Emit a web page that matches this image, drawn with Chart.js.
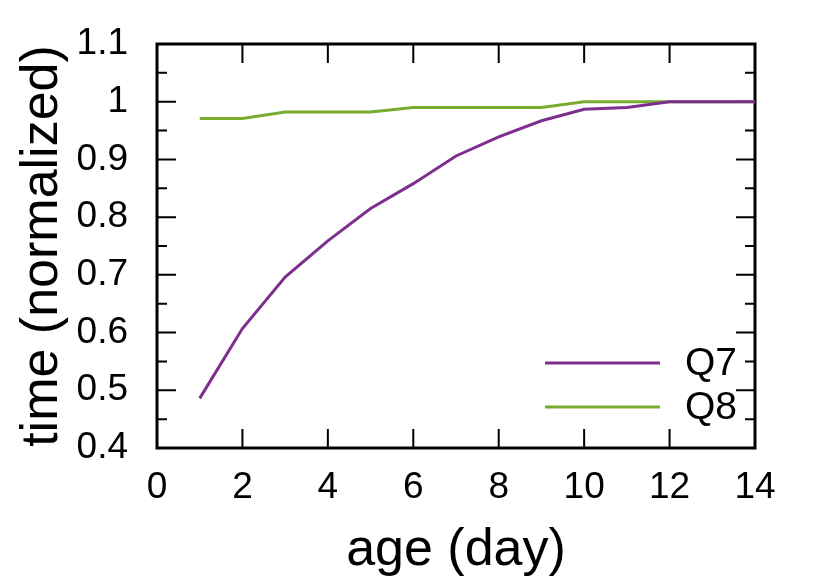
<!DOCTYPE html>
<html>
<head>
<meta charset="utf-8">
<script src="https://cdn.jsdelivr.net/npm/chart.js@4/dist/chart.umd.min.js"></script>
<style>
  html, body { margin: 0; padding: 0; background: #fff; }
  #wrap { width: 830px; height: 577px; }
</style>
</head>
<body>
<div id="wrap"><canvas id="c" width="830" height="577"></canvas></div>
<script>
// --- data ---
const ages = [1, 2, 3, 4, 5, 6, 7, 8, 9, 10, 11, 12, 13, 14];
const q7 = [0.486, 0.607, 0.696, 0.759, 0.815, 0.858, 0.906, 0.939, 0.967, 0.987, 0.990, 1.0, 1.0, 1.0];
const q8 = [0.971, 0.971, 0.982, 0.982, 0.982, 0.990, 0.990, 0.990, 0.990, 1.0, 1.0, 1.0, 1.0, 1.0];
const seriesNames = ['Q7', 'Q8'];
const seriesColors = ['#7e2f8e', '#77ac30'];
const xTicks = [0, 2, 4, 6, 8, 10, 12, 14];
const yTicks = [0.4, 0.5, 0.6, 0.7, 0.8, 0.9, 1.0, 1.1];
const yMinor = [0.45, 0.55, 0.65, 0.75, 0.85, 0.95, 1.05];

const FONT = '"Liberation Sans", Arial, Helvetica, sans-serif';

function toPoints(ys) {
    return ages.map((a, i) => ({ x: a, y: ys[i] }));
}

// frame + inner ticks (gnuplot style, mirrored), drawn under the lines
const framePlugin = {
    id: 'frame',
    beforeDatasetsDraw(chart) {
        const { ctx, chartArea: a, scales } = chart;
        const xs = scales.x, ys = scales.y;
        ctx.save();
        ctx.strokeStyle = '#000';
        ctx.lineWidth = 2;
        ctx.beginPath();
        xTicks.forEach(v => {
            if (v === xTicks[0] || v === xTicks[xTicks.length - 1]) return;
            const px = xs.getPixelForValue(v);
            ctx.moveTo(px, a.bottom); ctx.lineTo(px, a.bottom - 19);
            ctx.moveTo(px, a.top); ctx.lineTo(px, a.top + 19);
        });
        yTicks.forEach(v => {
            const py = ys.getPixelForValue(v);
            ctx.moveTo(a.left, py); ctx.lineTo(a.left + 19, py);
            ctx.moveTo(a.right, py); ctx.lineTo(a.right - 19, py);
        });
        yMinor.forEach(v => {
            const py = ys.getPixelForValue(v);
            ctx.moveTo(a.left, py); ctx.lineTo(a.left + 10, py);
            ctx.moveTo(a.right, py); ctx.lineTo(a.right - 10, py);
        });
        ctx.stroke();
        ctx.lineWidth = 3;
        ctx.strokeRect(a.left, a.top, a.right - a.left, a.bottom - a.top);
        ctx.restore();
    },
    afterDraw(chart) {
        // legend inside the plot, bottom right
        const ctx = chart.ctx;
        ctx.save();
        ctx.font = '39px ' + FONT;
        ctx.textBaseline = 'middle';
        ctx.textAlign = 'left';
        ctx.fillStyle = '#000';
        const rows = [363, 407];
        chart.data.datasets.forEach((ds, i) => {
            ctx.strokeStyle = ds.borderColor;
            ctx.lineWidth = 3;
            ctx.beginPath();
            ctx.moveTo(545, rows[i]);
            ctx.lineTo(660, rows[i]);
            ctx.stroke();
            ctx.fillText(ds.label, 685, rows[i] + 1);
        });
        ctx.restore();
    }
};

new Chart(document.getElementById('c'), {
    type: 'line',
    data: {
        datasets: [
            { label: seriesNames[0], data: toPoints(q7), borderColor: seriesColors[0], borderWidth: 3, pointRadius: 0, tension: 0, fill: false },
            { label: seriesNames[1], data: toPoints(q8), borderColor: seriesColors[1], borderWidth: 3, pointRadius: 0, tension: 0, fill: false }
        ]
    },
    options: {
        responsive: false,
        animation: false,
        events: [],
        layout: { padding: { top: 44, right: 75, bottom: 0, left: 0 } },
        plugins: { legend: { display: false }, tooltip: { enabled: false } },
        scales: {
            x: {
                type: 'linear',
                min: 0, max: 14,
                afterBuildTicks: s => { s.ticks = xTicks.map(v => ({ value: v })); },
                afterFit: s => { s.height = 577 - 448; s.paddingLeft = 0; s.paddingRight = 0; },
                grid: { display: false, drawTicks: false },
                border: { display: false },
                ticks: { color: '#000', font: { family: FONT, size: 37 }, padding: 18, maxRotation: 0 },
                title: { display: true, text: 'age (day)', color: '#000', font: { family: FONT, size: 52 }, padding: { top: 0, bottom: -5 } }
            },
            y: {
                min: 0.4, max: 1.1,
                afterBuildTicks: s => { s.ticks = yTicks.map(v => ({ value: v })); },
                afterFit: s => { s.width = 157; s.paddingTop = 0; s.paddingBottom = 0; },
                grid: { display: false, drawTicks: false },
                border: { display: false },
                ticks: { color: '#000', font: { family: FONT, size: 37 }, padding: 29, callback: v => String(+v.toFixed(1)) },
                title: { display: true, text: 'time (normalized)', color: '#000', font: { family: FONT, size: 52 }, padding: { top: 11, bottom: 0 } }
            }
        }
    },
    plugins: [framePlugin]
});
</script>
</body>
</html>
